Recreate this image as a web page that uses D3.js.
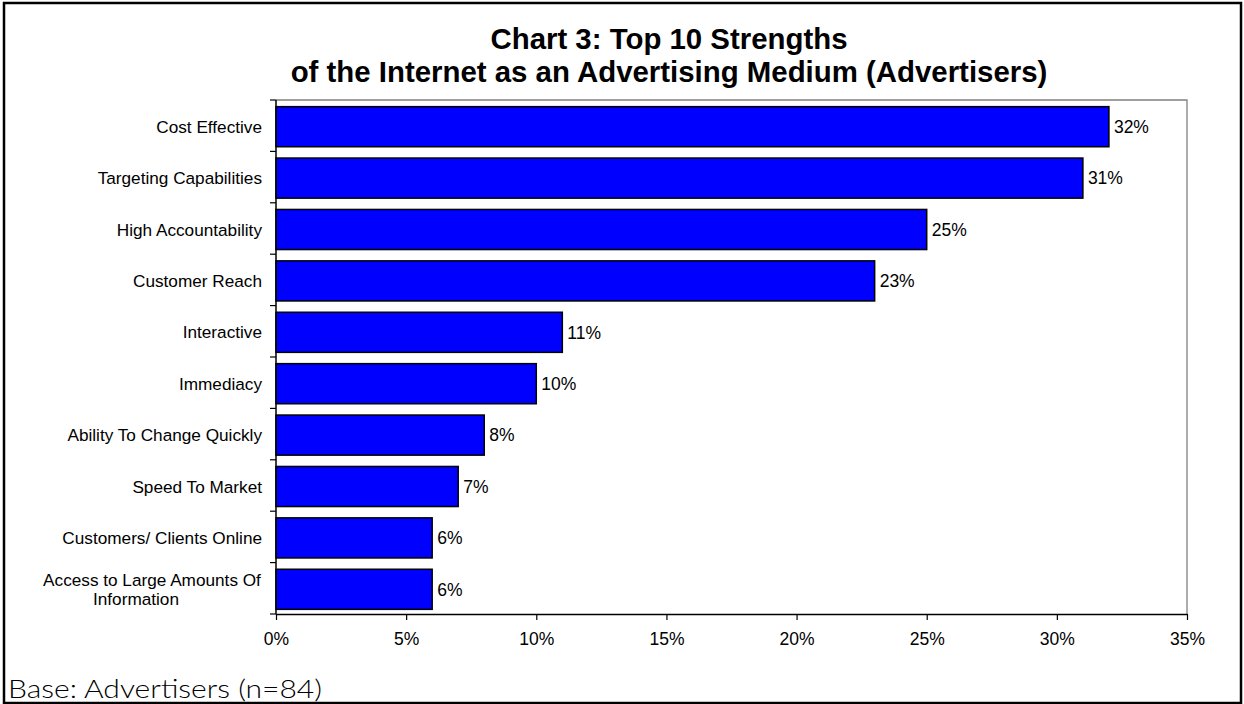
<!DOCTYPE html>
<html>
<head>
<meta charset="utf-8">
<script src="https://cdn.jsdelivr.net/npm/d3@7"></script>
<style>
  body { margin: 0; background: #fff; }
  svg { display: block; font-family: "Liberation Sans", Arial, sans-serif; }
</style>
</head>
<body>
<script>
// data
const categories = [
  "Cost Effective",
  "Targeting Capabilities",
  "High Accountability",
  "Customer Reach",
  "Interactive",
  "Immediacy",
  "Ability To Change Quickly",
  "Speed To Market",
  "Customers/ Clients Online",
  "Access to Large Amounts Of|Information"
];
const values = [0.32, 0.31, 0.25, 0.23, 0.11, 0.10, 0.08, 0.07, 0.06, 0.06];
const tickValues = [0, 0.05, 0.10, 0.15, 0.20, 0.25, 0.30, 0.35];

const titleLines = [
  "Chart 3: Top 10 Strengths",
  "of the Internet as an Advertising Medium (Advertisers)"
];
const footnote = "Base: Advertisers (n=84)";

const data = categories.map((c, i) => ({ name: c, value: values[i] }));

// layout
const width = 1244;
const height = 704;
const plot = { left: 276, right: 1187, top: 100, bottom: 614 };
const labelRight = 262;

const svg = d3.select("body").append("svg")
  .attr("width", width)
  .attr("height", height);

// outer frame
svg.append("rect")
  .attr("x", 4).attr("y", 3)
  .attr("width", 1237).attr("height", 700)
  .attr("fill", "#fff")
  .attr("stroke", "#000")
  .attr("stroke-width", 2.5);

// scales
const x = d3.scaleLinear().domain([0, 0.35]).range([plot.left, plot.right]);
const y = d3.scaleBand()
  .domain(categories)
  .range([plot.top, plot.bottom])
  .paddingInner(0.22)
  .paddingOuter(0.11);

// plot area frame (top / right in grey)
svg.append("path")
  .attr("d", `M${plot.left},${plot.top}H${plot.right}V${plot.bottom}`)
  .attr("fill", "none")
  .attr("stroke", "#808080")
  .attr("stroke-width", 1.3);

// bars
svg.selectAll(".bar")
  .data(data)
  .enter()
  .append("rect")
  .attr("class", "bar")
  .attr("x", x(0))
  .attr("y", (d) => y(d.name) + 1)
  .attr("width", (d) => x(d.value) - x(0))
  .attr("height", y.bandwidth())
  .attr("fill", "#0000ff")
  .attr("stroke", "#000")
  .attr("stroke-width", 1.5);

// value labels
svg.selectAll(".val")
  .data(data)
  .enter()
  .append("text")
  .attr("class", "val")
  .attr("x", (d) => x(d.value) + 5)
  .attr("y", (d) => y(d.name) + 1 + y.bandwidth() / 2)
  .attr("dy", "0.36em")
  .attr("font-size", 17.5)
  .text((d) => d3.format(".0%")(d.value));

// x axis
const xAxis = svg.append("g")
  .attr("transform", `translate(0,${plot.bottom})`)
  .call(
    d3.axisBottom(x)
      .tickValues(tickValues)
      .tickFormat(d3.format(".0%"))
      .tickSize(6)
      .tickPadding(13)
      .tickSizeOuter(0)
  );
xAxis.select(".domain").attr("stroke", "#000").attr("stroke-width", 1.5);
xAxis.selectAll(".tick line").attr("stroke", "#000").attr("stroke-width", 1.2);
xAxis.selectAll("text")
  .attr("font-size", 17.5)
  .attr("font-family", "Liberation Sans, Arial, sans-serif")
  .attr("fill", "#000");

// y axis line + category boundary ticks
const gap = (y.step() - y.bandwidth()) / 2;
const boundaries = categories.map((c) => y(c) - gap).concat([plot.bottom]);
svg.append("line")
  .attr("x1", plot.left).attr("x2", plot.left)
  .attr("y1", plot.top).attr("y2", plot.bottom)
  .attr("stroke", "#000")
  .attr("stroke-width", 1.5);
svg.selectAll(".ytick")
  .data(boundaries)
  .enter()
  .append("line")
  .attr("class", "ytick")
  .attr("x1", plot.left - 6).attr("x2", plot.left)
  .attr("y1", (d) => d).attr("y2", (d) => d)
  .attr("stroke", "#000")
  .attr("stroke-width", 1.2);

// category labels
const catLabels = svg.selectAll(".cat")
  .data(categories)
  .enter()
  .append("text")
  .attr("class", "cat")
  .attr("font-size", 17.2)
  .attr("fill", "#000");

catLabels.each(function (d) {
  const lines = d.split("|");
  const cy = y(d) + 1 + y.bandwidth() / 2;
  const t = d3.select(this);
  if (lines.length === 1) {
    t.attr("x", labelRight).attr("y", cy).attr("dy", "0.36em")
      .attr("text-anchor", "end").text(d);
  } else {
    t.attr("text-anchor", "middle");
    t.append("tspan")
      .attr("x", labelRight - 110).attr("y", cy - 9).attr("dy", "0.36em")
      .text(lines[0]);
    t.append("tspan")
      .attr("x", labelRight - 126).attr("y", cy + 10).attr("dy", "0.36em")
      .text(lines[1]);
  }
});

// title
svg.selectAll(".title")
  .data(titleLines)
  .enter()
  .append("text")
  .attr("class", "title")
  .attr("x", 669)
  .attr("y", (d, i) => 49 + i * 33)
  .attr("text-anchor", "middle")
  .attr("font-size", 29.4)
  .attr("font-weight", "bold")
  .text((d) => d);

// footnote
svg.append("text")
  .attr("x", 8)
  .attr("y", 698)
  .attr("font-family", "Lato, 'DejaVu Sans', sans-serif")
  .attr("font-weight", 300)
  .attr("font-size", 25)
  .attr("textLength", 314)
  .attr("lengthAdjust", "spacingAndGlyphs")
  .text(footnote);
</script>
</body>
</html>
